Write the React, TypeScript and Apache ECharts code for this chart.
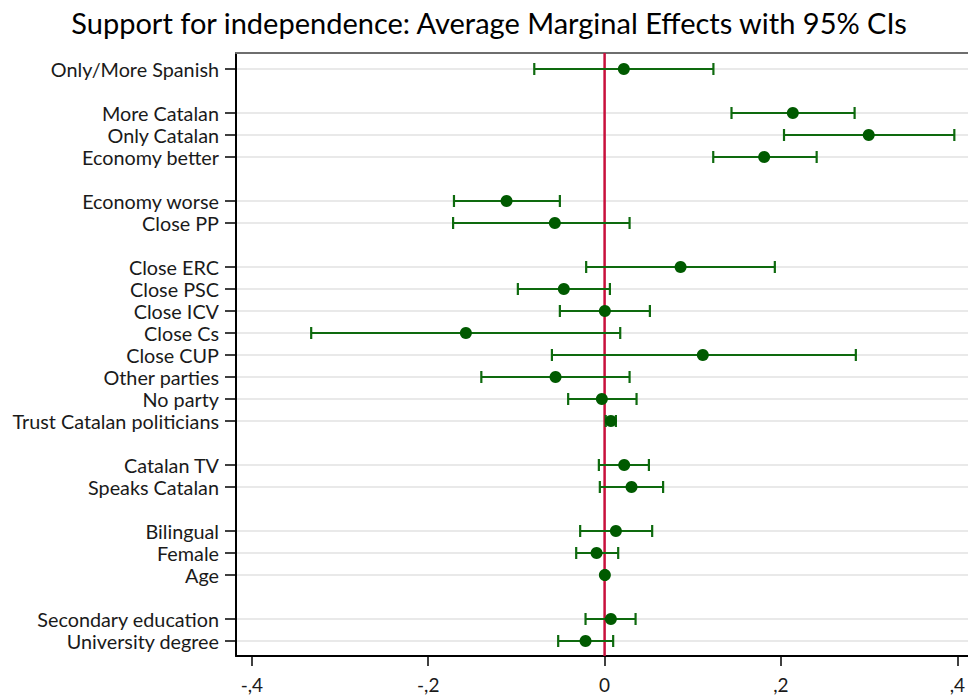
import React, { useEffect, useRef } from "react";
import * as echarts from "echarts";

const TITLE = "Support for independence: Average Marginal Effects with 95% CIs";

// rows from top to bottom; "" marks an empty spacer row
const categories: string[] = [
  "Only/More Spanish", "",
  "More Catalan", "Only Catalan", "Economy better", "",
  "Economy worse", "Close PP", "",
  "Close ERC", "Close PSC", "Close ICV", "Close Cs", "Close CUP", "Other parties", "No party", "Trust Catalan politicians", "",
  "Catalan TV", "Speaks Catalan", "",
  "Bilingual", "Female", "Age", "",
  "Secondary education", "University degree",
];

// point estimates (null for spacer rows)
const estimate: (number | null)[] = [
  0.0215, null,
  0.213, 0.299, 0.1805, null,
  -0.1114, -0.0567, null,
  0.0858, -0.0465, 0.0, -0.1575, 0.111, -0.0559, -0.0034, 0.0068, null,
  0.0219, 0.0302, null,
  0.0125, -0.0094, 0.0, null,
  0.0068, -0.0219,
];

const lower: (number | null)[] = [
  -0.080, null,
  0.1435, 0.203, 0.1228, null,
  -0.171, -0.172, null,
  -0.0212, -0.0986, -0.051, -0.3328, -0.060, -0.140, -0.0416, 0.001, null,
  -0.0068, -0.0057, null,
  -0.028, -0.0325, -0.001, null,
  -0.0219, -0.0529,
];

const upper: (number | null)[] = [
  0.123, null,
  0.283, 0.396, 0.240, null,
  -0.051, 0.028, null,
  0.1926, 0.0057, 0.051, 0.0174, 0.2844, 0.028, 0.0359, 0.0125, null,
  0.0499, 0.066, null,
  0.0536, 0.0151, 0.001, null,
  0.0348, 0.0094,
];

const xTicks: number[] = [-0.4, -0.2, 0, 0.2, 0.4];
const xTickLabels: string[] = ["-,4", "-,2", "0", ",2", ",4"];
const X_MIN = -0.418;
const X_MAX = 0.4115;
const referenceLine: number[] = [0];

const FONT = "Lato";
const GREEN_LINE = "#0e6a0e";
const GREEN_DOT = "#005a00";
const RED = "#c8103c";

export default function App() {
  const ref = useRef<HTMLDivElement>(null);

  useEffect(() => {
    if (!ref.current) return;
    const chart = echarts.init(ref.current, undefined, { renderer: "svg" });

    const barData: any[] = [];
    const dotData: any[] = [];
    categories.forEach((c, i) => {
      if (c === "" || estimate[i] == null) return;
      barData.push([lower[i], upper[i], i]);
      dotData.push([estimate[i], i]);
    });

    const showRow = (idx: number) => categories[idx] !== "";

    chart.setOption({
      animation: false,
      backgroundColor: "#ffffff",
      textStyle: { fontFamily: FONT },
      title: {
        text: TITLE,
        left: 484,
        top: 3,
        textAlign: "center",
        textStyle: { fontFamily: FONT, fontSize: 29, fontWeight: "normal", color: "#000" },
      },
      grid: [
        { left: 236, right: 0, top: 53, bottom: 39 },
        { left: 236, right: 0, top: 69, bottom: 54 },
      ],
      xAxis: [
        {
          gridIndex: 0,
          type: "value",
          position: "bottom",
          min: X_MIN,
          max: X_MAX,
          axisLine: { show: true, onZero: false, lineStyle: { color: "#000", width: 2 } },
          axisTick: { show: true, length: 10, customValues: xTicks, lineStyle: { color: "#000", width: 1.5 } },
          axisLabel: {
            show: true,
            customValues: xTicks,
            margin: 19,
            fontFamily: FONT,
            fontSize: 19,
            color: "#1a1a1a",
            formatter: (v: number) => {
              const k = xTicks.findIndex((t) => Math.abs(t - v) < 1e-9);
              return k >= 0 ? xTickLabels[k] : "";
            },
          },
          splitLine: { show: false },
        },
        {
          gridIndex: 0,
          type: "value",
          position: "top",
          min: X_MIN,
          max: X_MAX,
          axisLine: { show: true, onZero: false, lineStyle: { color: "#6e6e6e", width: 2 } },
          axisTick: { show: false },
          axisLabel: { show: false },
          splitLine: { show: false },
        },
        {
          gridIndex: 1,
          type: "value",
          min: X_MIN,
          max: X_MAX,
          axisLine: { show: false, onZero: false },
          axisTick: { show: false },
          axisLabel: { show: false },
          splitLine: { show: false },
        },
      ],
      yAxis: [
        {
          gridIndex: 0,
          type: "value",
          position: "left",
          min: 0,
          max: 1,
          axisLine: { show: true, onZero: false, lineStyle: { color: "#000", width: 2 } },
          axisTick: { show: false },
          axisLabel: { show: false },
          splitLine: { show: false },
        },
        {
          gridIndex: 1,
          type: "category",
          position: "left",
          data: categories,
          inverse: true,
          boundaryGap: false,
          axisLine: { show: false, onZero: false },
          axisTick: {
            show: true,
            length: 11,
            interval: (idx: number) => showRow(idx),
            lineStyle: { color: "#000", width: 1.5 },
          },
          axisLabel: {
            show: true,
            interval: (idx: number) => showRow(idx),
            margin: 17,
            fontFamily: FONT,
            fontSize: 19.8,
            color: "#1a1a1a",
          },
          splitLine: {
            show: true,
            interval: (idx: number) => showRow(idx),
            lineStyle: { color: "#e2e2e2", width: 1.5 },
          },
        },
      ],
      series: [
        {
          type: "custom",
          xAxisIndex: 0,
          yAxisIndex: 0,
          z: 1,
          data: referenceLine.map((v) => [v]),
          encode: { x: 0 },
          renderItem: (params: any, api: any) => {
            const p0 = api.coord([api.value(0), 0]);
            const p1 = api.coord([api.value(0), 1]);
            return {
              type: "line",
              shape: { x1: p0[0], y1: p0[1], x2: p1[0], y2: p1[1] },
              style: { stroke: RED, lineWidth: 2.5 },
            };
          },
        },
        {
          type: "custom",
          xAxisIndex: 2,
          yAxisIndex: 1,
          z: 2,
          data: barData,
          encode: { x: [0, 1], y: 2 },
          renderItem: (params: any, api: any) => {
            const a = api.coord([api.value(0), api.value(2)]);
            const b = api.coord([api.value(1), api.value(2)]);
            const h = 6;
            const st = { stroke: GREEN_LINE, lineWidth: 2.2 };
            return {
              type: "group",
              children: [
                { type: "line", shape: { x1: a[0], y1: a[1], x2: b[0], y2: b[1] }, style: st },
                { type: "line", shape: { x1: a[0], y1: a[1] - h, x2: a[0], y2: a[1] + h }, style: st },
                { type: "line", shape: { x1: b[0], y1: b[1] - h, x2: b[0], y2: b[1] + h }, style: st },
              ],
            };
          },
        },
        {
          type: "scatter",
          xAxisIndex: 2,
          yAxisIndex: 1,
          z: 3,
          symbol: "circle",
          symbolSize: 12,
          itemStyle: { color: GREEN_DOT, opacity: 1 },
          data: dotData,
        },
      ],
    });

    return () => chart.dispose();
  }, []);

  return (
    <div
      ref={ref}
      style={{ position: "fixed", left: 0, top: 0, width: 968, height: 695, background: "#fff" }}
    />
  );
}
